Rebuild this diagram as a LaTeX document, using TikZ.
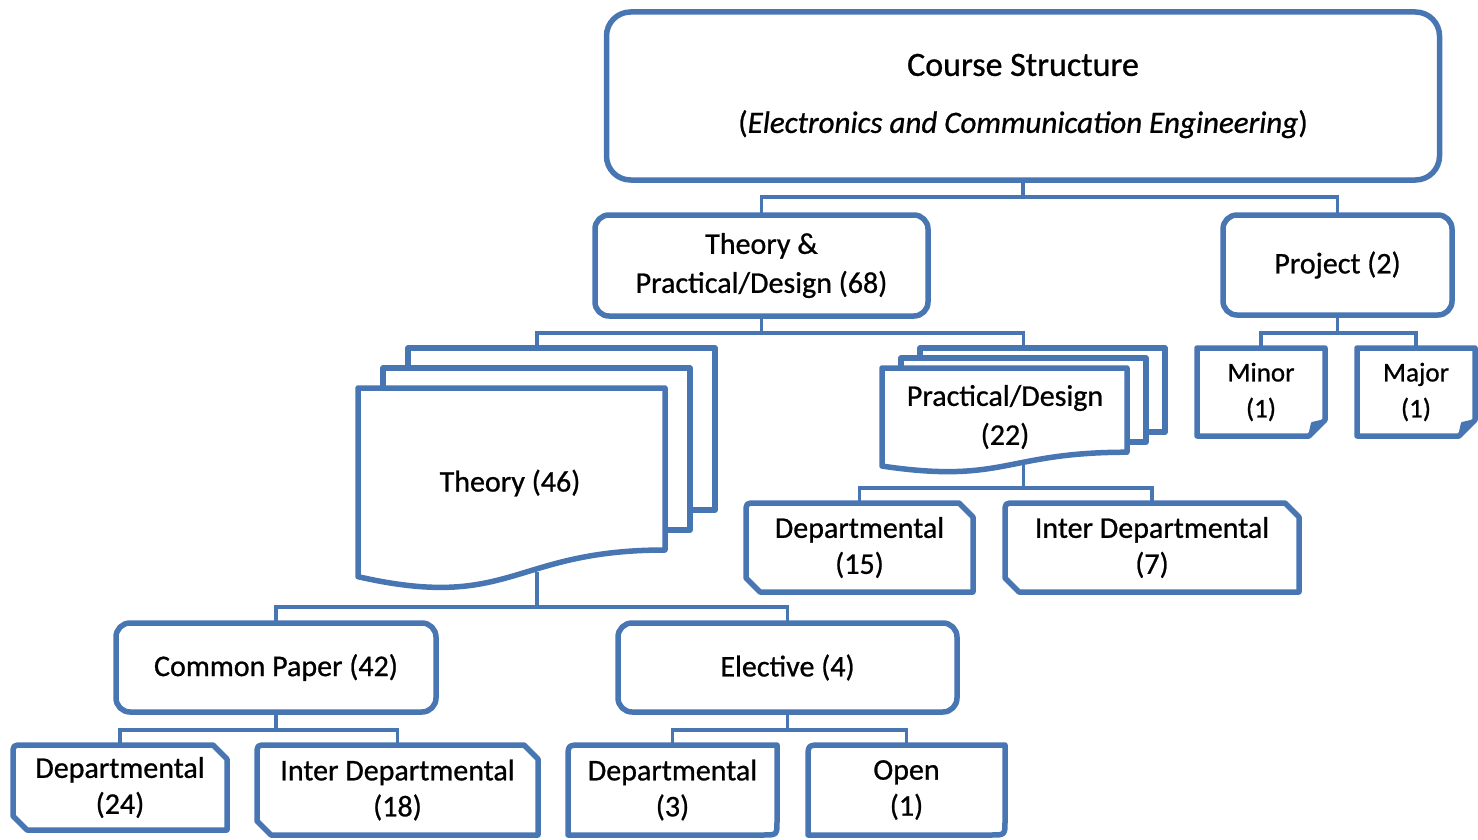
\documentclass[tikz,border=0pt]{standalone}
\usepackage{fontspec}
\setmainfont{Carlito}[UprightFeatures={FakeBold=0.8}, ItalicFeatures={FakeBold=0.8}]
\usepackage{xcolor}
\usetikzlibrary{calc}

\definecolor{smartblue}{RGB}{72,118,178}

% outlines drawn round the named text nodes
\newcommand{\snipframe}[1]{%
  \draw[frame] ([xshift=10pt]#1.north west) -- ([xshift=-14pt]#1.north east)
    -- ([yshift=-14pt]#1.north east) -- (#1.south east)
    -- ([xshift=14pt]#1.south west) -- ([yshift=14pt]#1.south west)
    -- ([yshift=-10pt]#1.north west) .. controls (#1.north west) .. ([xshift=10pt]#1.north west) -- cycle;}
\newcommand{\diagframe}[1]{%
  \draw[frame] ([xshift=14pt]#1.north west) -- (#1.north east)
    -- ([yshift=14pt]#1.south east) .. controls (#1.south east) .. ([xshift=-14pt]#1.south east)
    -- (#1.south west) -- ([yshift=-14pt]#1.north west)
    .. controls (#1.north west) .. ([xshift=14pt]#1.north west) -- cycle;}
\newcommand{\foldframe}[1]{%
  \draw[frame] (#1.north west) -- (#1.north east) -- ([yshift=16pt]#1.south east)
    -- ([xshift=-16pt]#1.south east) -- (#1.south west) -- cycle;
  \filldraw[frame, fill=smartblue, line width=2pt] ([yshift=16pt]#1.south east)
    -- ([xshift=-16pt]#1.south east) -- ([xshift=-13pt,yshift=13pt]#1.south east) -- cycle;}
% three stacked sheets, front one with a wavy bottom
\newcommand{\multidoc}[6]{%
  \foreach \k in {2,1}
    \filldraw[sheet] ({#1+\k*#5},{#2-\k*#6}) rectangle ++(#3,{0.802*#4});
  \filldraw[sheet] (#1,#2) -- ++(#3,0) -- ++(0,{0.802*#4})
    .. controls ({#1+0.5*#3},{#2+0.802*#4}) and ({#1+0.5*#3},{#2+1.107*#4}) .. ({#1},{#2+0.934*#4}) -- cycle;}

\begin{document}
\begin{tikzpicture}[x=1pt, y=-1pt]
    \tikzstyle{frame} = [draw=smartblue, line width=5.5pt, line join=round]
    \tikzstyle{sheet} = [frame, fill=white]
    \tikzstyle{block} = [frame, fill=white, rounded corners=14pt, align=center,
        font=\fontsize{30}{39}\selectfont, inner sep=0pt, outer sep=0pt]
    \tikzstyle{leaf} = [align=center, font=\fontsize{30}{36}\selectfont, inner sep=0pt, outer sep=0pt]
    \tikzstyle{line} = [draw=smartblue, line width=3.5pt]

    \useasboundingbox (0,0) rectangle (1478,840);

    \node [block, minimum width=833pt, minimum height=168pt, rounded corners=24pt,
        font=\fontsize{31}{57}\selectfont] (course) at (1023,96)
        {{\fontsize{34}{57}\selectfont Course Structure}\\({\itshape Electronics and Communication Engineering})};
    \node [block, minimum width=333pt, minimum height=101pt] (tpd) at (761.5,265.5) {Theory \&\\Practical/Design (68)};
    \node [block, minimum width=229pt, minimum height=100pt] (project) at (1337.5,265) {Project (2)};
    \node [block, minimum width=320pt, minimum height=89pt] (common) at (276,667.5) {Common Paper (42)};
    \node [block, minimum width=339pt, minimum height=89pt] (elective) at (787.5,667.5) {Elective (4)};

    \multidoc{358}{388}{307}{202}{25}{20}
    \node [leaf] (theory) at (510,483) {Theory (46)};
    \multidoc{882}{368}{245}{105}{19}{10}
    \node [leaf, font=\fontsize{30}{39}\selectfont] (practical) at (1005,417) {Practical/Design\\(22)};

    \node [leaf, minimum width=214pt, minimum height=85pt] (cpdep) at (120,787.5) {Departmental\\(24)};
    \node [leaf, minimum width=281pt, minimum height=90pt] (cpinter) at (397.5,790) {Inter Departmental\\(18)};
    \node [leaf, minimum width=209pt, minimum height=90pt] (eldep) at (672.5,790) {Departmental\\(3)};
    \node [leaf, minimum width=197pt, minimum height=90pt] (elopen) at (906.5,790) {Open\\(1)};
    \node [leaf, minimum width=227pt, minimum height=89pt] (pddep) at (859.5,547.5) {Departmental\\(15)};
    \node [leaf, minimum width=294pt, minimum height=89pt] (pdinter) at (1152,547.5) {Inter Departmental\\(7)};
    \node [leaf, minimum width=128pt, minimum height=88pt, font=\fontsize{27}{36}\selectfont] (minor) at (1261,392) {Minor\\(1)};
    \node [leaf, minimum width=118pt, minimum height=88pt, font=\fontsize{27}{36}\selectfont] (major) at (1416,392) {Major\\(1)};

    \foreach \n in {cpdep,cpinter,pddep,pdinter} {\snipframe{\n}}
    \foreach \n in {eldep,elopen} {\diagframe{\n}}
    \foreach \n in {minor,major} {\foldframe{\n}}

    \coordinate (theoryTop) at (537,348);
    \coordinate (theoryBot) at (537,572);
    \coordinate (practicalTop) at (1023.5,348);
    \coordinate (practicalBot) at (1023.5,462);

    \path [line] (course.south) -- ++(0,17) -| (tpd.north);
    \path [line] (course.south) -- ++(0,17) -| (project.north);
    \path [line] (tpd.south) -- ++(0,17) -| (theoryTop);
    \path [line] (tpd.south) -- ++(0,17) -| (practicalTop);
    \path [line] (project.south) -- ++(0,18) -| (minor.north);
    \path [line] (project.south) -- ++(0,18) -| (major.north);
    \path [line] (practicalBot) -- ++(0,26) -| (pddep.north);
    \path [line] (practicalBot) -- ++(0,26) -| (pdinter.north);
    \path [line] (theoryBot) -- ++(0,35) -| (common.north);
    \path [line] (theoryBot) -- ++(0,35) -| (elective.north);
    \path [line] (common.south) -- ++(0,18) -| (cpdep.north);
    \path [line] (common.south) -- ++(0,18) -| (cpinter.north);
    \path [line] (elective.south) -- ++(0,18) -| (eldep.north);
    \path [line] (elective.south) -- ++(0,18) -| (elopen.north);
\end{tikzpicture}
\end{document}
